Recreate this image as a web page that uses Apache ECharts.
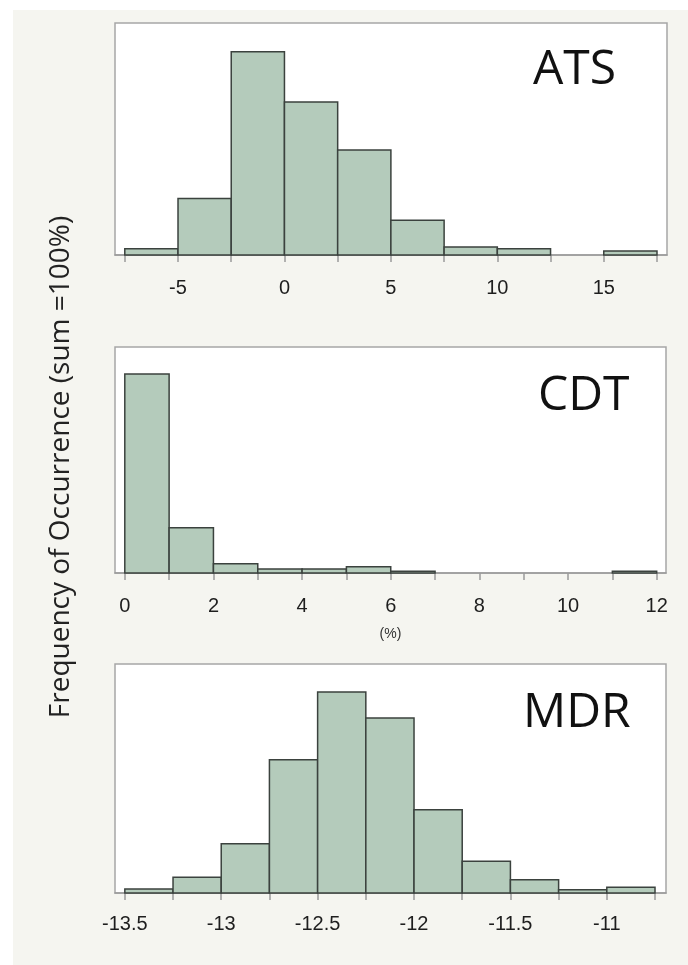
<!DOCTYPE html>
<html>
<head>
<meta charset="utf-8">
<script src="https://cdn.jsdelivr.net/npm/echarts@6/dist/echarts.min.js"></script>
<style>
  html, body { margin: 0; padding: 0; background: #ffffff; }
  #chart { width: 688px; height: 965px; }
</style>
</head>
<body>
<div id="chart"></div>
<script>
// bin edges and frequency (% of occurrences) for each panel
const atsEdges = [-7.5, -5, -2.5, 0, 2.5, 5, 7.5, 10, 12.5, 15, 17.5];
const atsFreq = [1.1, 9.8, 35.2, 26.5, 18.2, 6.0, 1.4, 1.1, 0, 0.7];
const atsTicks = [-7.5, -5, -2.5, 0, 2.5, 5, 7.5, 10, 12.5, 15, 17.5];
const atsLabels = [-5, 0, 5, 10, 15];

const cdtEdges = [0, 1, 2, 3, 4, 5, 6, 7, 8, 9, 10, 11, 12];
const cdtFreq = [73.4, 16.7, 3.4, 1.5, 1.5, 2.3, 0.6, 0, 0, 0, 0, 0.6];
const cdtTicks = [0, 1, 2, 3, 4, 5, 6, 7, 8, 9, 10, 11, 12];
const cdtLabels = [0, 2, 4, 6, 8, 10, 12];

const mdrEdges = [-13.5, -13.25, -13, -12.75, -12.5, -12.25, -12, -11.75, -11.5, -11.25, -11, -10.75];
const mdrFreq = [0.56, 2.19, 6.89, 18.63, 28.09, 24.45, 11.64, 4.42, 1.86, 0.47, 0.79];
const mdrTicks = [-13.5, -13.25, -13, -12.75, -12.5, -12.25, -12, -11.75, -11.5, -11.25, -11, -10.75];
const mdrLabels = [-13.5, -13, -12.5, -12, -11.5, -11];

const titles = ['ATS', 'CDT', 'MDR'];

const panels = [
  { edges: atsEdges, freq: atsFreq, ticks: atsTicks, labels: atsLabels, min: -7.96, max: 17.97, ymax: 40.2,
    grid: { left: 115, top: 23, width: 552, height: 232 }, labelMargin: 23 },
  { edges: cdtEdges, freq: cdtFreq, ticks: cdtTicks, labels: cdtLabels, min: -0.221, max: 12.21, ymax: 83.4,
    grid: { left: 115, top: 347, width: 551, height: 226 }, labelMargin: 23, name: '(%)' },
  { edges: mdrEdges, freq: mdrFreq, ticks: mdrTicks, labels: mdrLabels, min: -13.551, max: -10.693, ymax: 32.0,
    grid: { left: 115, top: 664, width: 551, height: 229 }, labelMargin: 21 }
];

function binData(edges, freq) {
  const out = [];
  for (let i = 0; i < freq.length; i++) {
    if (freq[i] > 0) out.push([edges[i], edges[i + 1], freq[i]]);
  }
  return out;
}

function renderBin(params, api) {
  const p0 = api.coord([api.value(0), api.value(2)]);
  const p1 = api.coord([api.value(1), 0]);
  return {
    type: 'rect',
    shape: { x: p0[0], y: p0[1], width: p1[0] - p0[0], height: p1[1] - p0[1] },
    style: { fill: '#b4cbbb', stroke: '#3b423e', lineWidth: 1.5 }
  };
}

const grids = [], xAxes = [], yAxes = [], series = [];
panels.forEach((p, i) => {
  grids.push(Object.assign({
    show: true, backgroundColor: '#ffffff', borderColor: '#a6a6a6', borderWidth: 1.5
  }, p.grid));
  xAxes.push({
    type: 'value', gridIndex: i, min: p.min, max: p.max,
    axisLine: { show: true, lineStyle: { color: '#9a9a9a', width: 1.5 } },
    axisTick: { show: true, length: 7, customValues: p.ticks, lineStyle: { color: '#9a9a9a', width: 1.5 } },
    axisLabel: {
      customValues: p.labels, margin: p.labelMargin, color: '#1e1e1e', fontSize: 20, fontFamily: 'Liberation Sans'
    },
    splitLine: { show: false },
    name: p.name || '', nameLocation: 'middle', nameGap: 54,
    nameTextStyle: { fontSize: 14, color: '#333', fontFamily: 'Liberation Sans' }
  });
  yAxes.push({
    type: 'value', gridIndex: i, min: 0, max: p.ymax, show: false
  });
  series.push({
    type: 'custom', xAxisIndex: i, yAxisIndex: i,
    renderItem: renderBin,
    encode: { x: [0, 1], y: 2 },
    data: binData(p.edges, p.freq)
  });
});

const option = {
  backgroundColor: '#ffffff',
  animation: false,
  grid: grids,
  xAxis: xAxes,
  yAxis: yAxes,
  series: series,
  graphic: [
    { type: 'rect', z: -10, shape: { x: 13, y: 10, width: 675, height: 955 }, style: { fill: '#f5f5f0' } },
    { type: 'text', x: 533, y: 70, style: { text: titles[0], font: '48px "Open Sans"', fill: '#111', verticalAlign: 'middle' } },
    { type: 'text', x: 538, y: 396, style: { text: titles[1], font: '48px "Open Sans"', fill: '#111', verticalAlign: 'middle' } },
    { type: 'text', x: 523, y: 713, style: { text: titles[2], font: '48px "Open Sans"', fill: '#111', verticalAlign: 'middle' } },
    {
      type: 'text', x: 61, y: 467, rotation: Math.PI / 2,
      style: {
        text: 'Frequency of Occurrence (sum =100%)', font: '28px "Open Sans"', fill: '#222',
        align: 'center', verticalAlign: 'middle'
      }
    }
  ]
};

const chart = echarts.init(document.getElementById('chart'));
chart.setOption(option);
</script>
</body>
</html>
